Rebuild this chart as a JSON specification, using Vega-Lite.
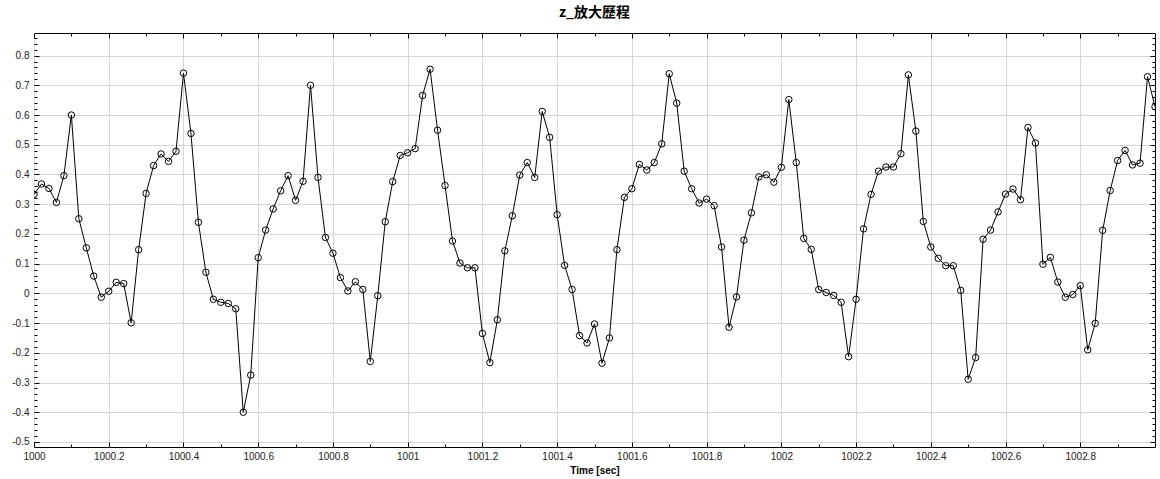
{
  "$schema": "https://vega.github.io/schema/vega-lite/v6.json",
  "autosize": "none",
  "width": 1121,
  "height": 414,
  "padding": {"left": 34, "top": 33, "right": 5, "bottom": 32},
  "background": "#ffffff",
  "title": {"text": "z_放大歷程", "font": "Noto Sans CJK TC", "fontSize": 14, "fontWeight": "bold", "color": "#000000", "anchor": "middle", "offset": 13},
  "config": {
    "view": {"stroke": "#000000", "strokeWidth": 1},
    "axis": {"labelFont": "Liberation Sans", "labelFontSize": 10, "labelColor": "#222222", "titleFont": "Liberation Sans", "domain": false, "tickColor": "#000000", "labelFlush": false}
  },
  "data": {"values": [
    {"t":1000.00,"z":0.333},{"t":1000.02,"z":0.368},{"t":1000.04,"z":0.353},{"t":1000.06,"z":0.306},{"t":1000.08,"z":0.396},
    {"t":1000.10,"z":0.600},{"t":1000.12,"z":0.251},{"t":1000.14,"z":0.153},{"t":1000.16,"z":0.058},{"t":1000.18,"z":-0.013},
    {"t":1000.20,"z":0.007},{"t":1000.22,"z":0.037},{"t":1000.24,"z":0.033},{"t":1000.26,"z":-0.099},{"t":1000.28,"z":0.147},
    {"t":1000.30,"z":0.336},{"t":1000.32,"z":0.430},{"t":1000.34,"z":0.469},{"t":1000.36,"z":0.444},{"t":1000.38,"z":0.478},
    {"t":1000.40,"z":0.741},{"t":1000.42,"z":0.538},{"t":1000.44,"z":0.239},{"t":1000.46,"z":0.071},{"t":1000.48,"z":-0.020},
    {"t":1000.50,"z":-0.030},{"t":1000.52,"z":-0.034},{"t":1000.54,"z":-0.052},{"t":1000.56,"z":-0.400},{"t":1000.58,"z":-0.275},
    {"t":1000.60,"z":0.120},{"t":1000.62,"z":0.213},{"t":1000.64,"z":0.284},{"t":1000.66,"z":0.345},{"t":1000.68,"z":0.396},
    {"t":1000.70,"z":0.313},{"t":1000.72,"z":0.377},{"t":1000.74,"z":0.700},{"t":1000.76,"z":0.390},{"t":1000.78,"z":0.188},
    {"t":1000.80,"z":0.135},{"t":1000.82,"z":0.053},{"t":1000.84,"z":0.008},{"t":1000.86,"z":0.039},{"t":1000.88,"z":0.013},
    {"t":1000.90,"z":-0.229},{"t":1000.92,"z":-0.008},{"t":1000.94,"z":0.241},{"t":1000.96,"z":0.376},{"t":1000.98,"z":0.464},
    {"t":1001.00,"z":0.473},{"t":1001.02,"z":0.487},{"t":1001.04,"z":0.666},{"t":1001.06,"z":0.754},{"t":1001.08,"z":0.549},
    {"t":1001.10,"z":0.363},{"t":1001.12,"z":0.176},{"t":1001.14,"z":0.102},{"t":1001.16,"z":0.086},{"t":1001.18,"z":0.086},
    {"t":1001.20,"z":-0.135},{"t":1001.22,"z":-0.233},{"t":1001.24,"z":-0.089},{"t":1001.26,"z":0.143},{"t":1001.28,"z":0.261},
    {"t":1001.30,"z":0.398},{"t":1001.32,"z":0.440},{"t":1001.34,"z":0.390},{"t":1001.36,"z":0.612},{"t":1001.38,"z":0.525},
    {"t":1001.40,"z":0.265},{"t":1001.42,"z":0.094},{"t":1001.44,"z":0.013},{"t":1001.46,"z":-0.142},{"t":1001.48,"z":-0.167},
    {"t":1001.50,"z":-0.103},{"t":1001.52,"z":-0.235},{"t":1001.54,"z":-0.150},{"t":1001.56,"z":0.147},{"t":1001.58,"z":0.323},
    {"t":1001.60,"z":0.352},{"t":1001.62,"z":0.434},{"t":1001.64,"z":0.415},{"t":1001.66,"z":0.440},{"t":1001.68,"z":0.503},
    {"t":1001.70,"z":0.739},{"t":1001.72,"z":0.640},{"t":1001.74,"z":0.411},{"t":1001.76,"z":0.352},{"t":1001.78,"z":0.304},
    {"t":1001.80,"z":0.317},{"t":1001.82,"z":0.295},{"t":1001.84,"z":0.156},{"t":1001.86,"z":-0.114},{"t":1001.88,"z":-0.012},
    {"t":1001.90,"z":0.179},{"t":1001.92,"z":0.271},{"t":1001.94,"z":0.392},{"t":1001.96,"z":0.399},{"t":1001.98,"z":0.374},
    {"t":1002.00,"z":0.424},{"t":1002.02,"z":0.652},{"t":1002.04,"z":0.440},{"t":1002.06,"z":0.185},{"t":1002.08,"z":0.148},
    {"t":1002.10,"z":0.013},{"t":1002.12,"z":0.003},{"t":1002.14,"z":-0.007},{"t":1002.16,"z":-0.030},{"t":1002.18,"z":-0.213},
    {"t":1002.20,"z":-0.020},{"t":1002.22,"z":0.217},{"t":1002.24,"z":0.333},{"t":1002.26,"z":0.411},{"t":1002.28,"z":0.425},
    {"t":1002.30,"z":0.425},{"t":1002.32,"z":0.470},{"t":1002.34,"z":0.735},{"t":1002.36,"z":0.546},{"t":1002.38,"z":0.242},
    {"t":1002.40,"z":0.156},{"t":1002.42,"z":0.118},{"t":1002.44,"z":0.093},{"t":1002.46,"z":0.093},{"t":1002.48,"z":0.010},
    {"t":1002.50,"z":-0.289},{"t":1002.52,"z":-0.216},{"t":1002.54,"z":0.182},{"t":1002.56,"z":0.213},{"t":1002.58,"z":0.274},
    {"t":1002.60,"z":0.334},{"t":1002.62,"z":0.351},{"t":1002.64,"z":0.315},{"t":1002.66,"z":0.558},{"t":1002.68,"z":0.506},
    {"t":1002.70,"z":0.098},{"t":1002.72,"z":0.121},{"t":1002.74,"z":0.038},{"t":1002.76,"z":-0.013},{"t":1002.78,"z":-0.004},
    {"t":1002.80,"z":0.026},{"t":1002.82,"z":-0.190},{"t":1002.84,"z":-0.101},{"t":1002.86,"z":0.212},{"t":1002.88,"z":0.346},
    {"t":1002.90,"z":0.447},{"t":1002.92,"z":0.481},{"t":1002.94,"z":0.432},{"t":1002.96,"z":0.438},{"t":1002.98,"z":0.729},
    {"t":1003.00,"z":0.628}
  ]},
  "layer": [
    {
      "mark": {"type": "line", "color": "#000000", "strokeWidth": 1, "clip": true},
      "encoding": {
        "x": {"field": "t", "type": "quantitative", "scale": {"domain": [1000, 1003], "nice": false, "zero": false},
          "axis": {"orient": "bottom", "values": [1000, 1000.2, 1000.4, 1000.6, 1000.8, 1001, 1001.2, 1001.4, 1001.6, 1001.8, 1002, 1002.2, 1002.4, 1002.6, 1002.8],
            "format": "~f", "grid": true, "gridColor": "#d6d6d6", "gridWidth": 1, "tickSize": -5, "labelPadding": 9,
            "title": "Time [sec]", "titleFontSize": 10, "titleFontWeight": "bold", "titleColor": "#000000", "titlePadding": 4}},
        "y": {"field": "z", "type": "quantitative", "scale": {"domain": [-0.517, 0.876], "nice": false, "zero": false},
          "axis": {"orient": "left", "values": [-0.5, -0.4, -0.3, -0.2, -0.1, 0, 0.1, 0.2, 0.3, 0.4, 0.5, 0.6, 0.7, 0.8],
            "format": "~f", "labelExpr": "replace(datum.label, '\u2212', '-')", "grid": true, "gridColor": "#d6d6d6", "gridWidth": 1, "tickSize": -5, "labelPadding": 10, "title": null}}
      }
    },
    {
      "mark": {"type": "point", "shape": "circle", "filled": false, "stroke": "#000000", "strokeWidth": 1, "size": 42, "opacity": 1, "clip": true},
      "encoding": {
        "x": {"field": "t", "type": "quantitative",
          "axis": {"orient": "top", "values": [1000, 1000.2, 1000.4, 1000.6, 1000.8, 1001, 1001.2, 1001.4, 1001.6, 1001.8, 1002, 1002.2, 1002.4, 1002.6, 1002.8],
            "labels": false, "grid": false, "tickSize": -5, "title": null}},
        "y": {"field": "z", "type": "quantitative",
          "axis": {"orient": "right", "values": [-0.5, -0.4, -0.3, -0.2, -0.1, 0, 0.1, 0.2, 0.3, 0.4, 0.5, 0.6, 0.7, 0.8],
            "labels": false, "grid": false, "tickSize": -5, "title": null}}
      }
    },
    {
      "mark": {"type": "point", "opacity": 0, "clip": true},
      "encoding": {
        "x": {"field": "t", "type": "quantitative",
          "axis": {"orient": "bottom", "values": [1000.1, 1000.3, 1000.5, 1000.7, 1000.9, 1001.1, 1001.3, 1001.5, 1001.7, 1001.9, 1002.1, 1002.3, 1002.5, 1002.7, 1002.9],
            "labels": false, "grid": false, "tickSize": -3, "title": null}},
        "y": {"field": "z", "type": "quantitative",
          "axis": {"orient": "left", "values": [-0.48, -0.46, -0.44, -0.42, -0.38, -0.36, -0.34, -0.32, -0.28, -0.26, -0.24, -0.22, -0.18, -0.16, -0.14, -0.12, -0.08, -0.06, -0.04, -0.02, 0.02, 0.04, 0.06, 0.08, 0.12, 0.14, 0.16, 0.18, 0.22, 0.24, 0.26, 0.28, 0.32, 0.34, 0.36, 0.38, 0.42, 0.44, 0.46, 0.48, 0.52, 0.54, 0.56, 0.58, 0.62, 0.64, 0.66, 0.68, 0.72, 0.74, 0.76, 0.78, 0.82, 0.84, 0.86],
            "labels": false, "grid": false, "tickSize": -3, "title": null}}
      }
    },
    {
      "mark": {"type": "point", "opacity": 0, "clip": true},
      "encoding": {
        "x": {"field": "t", "type": "quantitative",
          "axis": {"orient": "top", "values": [1000.1, 1000.3, 1000.5, 1000.7, 1000.9, 1001.1, 1001.3, 1001.5, 1001.7, 1001.9, 1002.1, 1002.3, 1002.5, 1002.7, 1002.9],
            "labels": false, "grid": false, "tickSize": -3, "title": null}},
        "y": {"field": "z", "type": "quantitative",
          "axis": {"orient": "right", "values": [-0.48, -0.46, -0.44, -0.42, -0.38, -0.36, -0.34, -0.32, -0.28, -0.26, -0.24, -0.22, -0.18, -0.16, -0.14, -0.12, -0.08, -0.06, -0.04, -0.02, 0.02, 0.04, 0.06, 0.08, 0.12, 0.14, 0.16, 0.18, 0.22, 0.24, 0.26, 0.28, 0.32, 0.34, 0.36, 0.38, 0.42, 0.44, 0.46, 0.48, 0.52, 0.54, 0.56, 0.58, 0.62, 0.64, 0.66, 0.68, 0.72, 0.74, 0.76, 0.78, 0.82, 0.84, 0.86],
            "labels": false, "grid": false, "tickSize": -3, "title": null}}
      }
    }
  ],
  "resolve": {"axis": {"x": "independent", "y": "independent"}}
}
